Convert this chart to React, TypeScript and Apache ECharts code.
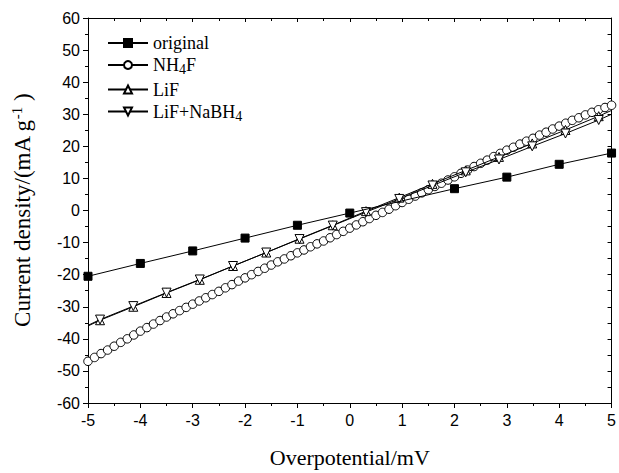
import React, { useEffect, useRef } from "react";
import * as echarts from "echarts";

const xTicks = [-5, -4, -3, -2, -1, 0, 1, 2, 3, 4, 5];

const originalX = [-5, -4, -3, -2, -1, 0, 2, 3, 4, 5];
const originalY = [-20.5, -16.5, -12.6, -8.6, -4.6, -0.8, 6.8, 10.4, 14.4, 17.9];

const nh4fX = [
  -5, -4.875, -4.75, -4.625, -4.5, -4.375, -4.25, -4.125, -4, -3.875, -3.75, -3.625, -3.5, -3.375, -3.25, -3.125,
  -3, -2.875, -2.75, -2.625, -2.5, -2.375, -2.25, -2.125, -2, -1.875, -1.75, -1.625, -1.5, -1.375, -1.25, -1.125,
  -1, -0.875, -0.75, -0.625, -0.5, -0.375, -0.25, -0.125, 0, 0.125, 0.25, 0.375, 0.5, 0.625, 0.75, 0.875,
  1, 1.125, 1.25, 1.375, 1.5, 1.625, 1.75, 1.875, 2, 2.125, 2.25, 2.375, 2.5, 2.625, 2.75, 2.875,
  3, 3.125, 3.25, 3.375, 3.5, 3.625, 3.75, 3.875, 4, 4.125, 4.25, 4.375, 4.5, 4.625, 4.75, 4.875, 5,
];
const nh4fY = [
  -47.0, -45.8, -44.6, -43.5, -42.3, -41.1, -40.0, -38.8, -37.6, -36.5, -35.4, -34.3, -33.2, -32.2, -31.2, -30.2,
  -29.2, -28.2, -27.2, -26.2, -25.2, -24.1, -23.1, -22.0, -21.0, -20.0, -19.0, -18.0, -17.0, -16.0, -15.1, -14.1,
  -13.2, -12.3, -11.3, -10.4, -9.5, -8.5, -7.5, -6.5, -5.5, -4.5, -3.5, -2.5, -1.5, -0.6, 0.4, 1.5,
  2.5, 3.5, 4.5, 5.5, 6.5, 7.5, 8.5, 9.5, 10.5, 11.6, 12.6, 13.7, 14.7, 15.7, 16.8, 17.8,
  18.8, 19.7, 20.7, 21.6, 22.5, 23.5, 24.4, 25.4, 26.3, 27.2, 28.1, 28.9, 29.8, 30.6, 31.4, 32.1, 32.8,
];

// line end points (no marker) + marker points
const lifX = [-5, -4.77, -4.135, -3.5, -2.865, -2.23, -1.595, -0.96, -0.325, 0.31, 0.945, 1.58, 2.215, 2.85, 3.485, 4.12, 4.755, 5];
const lifY = [-36, -34.2, -30, -25.7, -21.6, -17.3, -13.1, -8.8, -4.6, -0.2, 4, 8.3, 12.5, 16.7, 20.9, 25.1, 29.4, 31.2];
const lifNaX = [-5, -4.77, -4.135, -3.5, -2.865, -2.23, -1.595, -0.96, -0.325, 0.31, 0.945, 1.58, 2.215, 2.85, 3.485, 4.12, 4.755, 5];
const lifNaY = [-35.8, -34, -29.8, -25.6, -21.5, -17.3, -13.1, -8.9, -4.7, -0.5, 3.6, 7.8, 11.9, 15.9, 20, 24, 28.2, 30];

const seriesNames = ["original", "NH4F", "LiF", "LiF+NaBH4"];
const legendLabels: Record<string, string> = {
  original: "original",
  NH4F: "NH{sub|4}F",
  LiF: "LiF",
  "LiF+NaBH4": "LiF+NaBH{sub|4}",
};

const serif = "'Liberation Serif', 'Times New Roman', serif";
const sans = "'Liberation Sans', Arial, sans-serif";

function pairs(xs: number[], ys: number[], endsBare = false) {
  return xs.map((x, i) => {
    if (endsBare && (i === 0 || i === xs.length - 1)) {
      return { value: [x, ys[i]], symbol: "none" };
    }
    return { value: [x, ys[i]] };
  });
}

export default function App() {
  const ref = useRef<HTMLDivElement>(null);
  useEffect(() => {
    if (!ref.current) return;
    const chart = echarts.init(ref.current, null, { renderer: "svg" });
    const lineStyle = { color: "#000", width: 1 };
    const itemStyle = { color: "#fff", borderColor: "#000", borderWidth: 1 };
    chart.setOption({
      animation: false,
      backgroundColor: "#fff",
      grid: { left: 88, right: 5, top: 18, bottom: 68, containLabel: false },
      legend: {
        orient: "vertical",
        left: 102,
        top: 29,
        itemWidth: 40,
        itemHeight: 10,
        itemGap: 4,
        data: seriesNames,
        formatter: (n: string) => legendLabels[n] || n,
        textStyle: {
          fontFamily: serif,
          fontSize: 18,
          fontWeight: "normal",
          color: "#000",
          rich: {
            sub: { fontFamily: serif, fontSize: 14, fontWeight: "normal", color: "#000", padding: [9, 0, 0, 0] },
          },
        },
      },
      xAxis: [
        {
          type: "value",
          min: -5,
          max: 5,
          interval: 1,
          name: "Overpotential/mV",
          nameLocation: "middle",
          nameGap: 43,
          nameTextStyle: { fontFamily: serif, fontSize: 22, fontWeight: "normal", color: "#000" },
          axisLine: { onZero: false, lineStyle: { color: "#000", width: 1 } },
          axisTick: { inside: false, length: 5, lineStyle: { color: "#000" } },
          minorTick: { show: true, splitNumber: 2, length: 3, lineStyle: { color: "#000" } },
          splitLine: { show: false },
          axisLabel: {
            fontFamily: sans,
            fontSize: 16,
            color: "#000",
            margin: 9,
            formatter: (v: number) => (xTicks.includes(v) ? String(v) : ""),
          },
        },
        {
          type: "value",
          position: "top",
          min: -5,
          max: 5,
          interval: 1,
          axisLine: { onZero: false, lineStyle: { color: "#000", width: 1 } },
          axisTick: { inside: true, length: 4, lineStyle: { color: "#000" } },
          minorTick: { show: true, splitNumber: 2, length: 3, lineStyle: { color: "#000" } },
          splitLine: { show: false },
          axisLabel: { show: false },
        },
      ],
      yAxis: [
        {
          type: "value",
          min: -60,
          max: 60,
          interval: 10,
          name: "Current density/(mA g{sup|-1} )",
          nameLocation: "middle",
          nameGap: 52,
          nameTextStyle: {
            fontFamily: serif,
            fontSize: 23,
            fontWeight: "normal",
            color: "#000",
            rich: { sup: { fontFamily: serif, fontSize: 15, fontWeight: "normal", color: "#000", padding: [0, 0, 12, 0] } },
          },
          axisLine: { onZero: false, lineStyle: { color: "#000", width: 1 } },
          axisTick: { inside: false, length: 5, lineStyle: { color: "#000" } },
          minorTick: { show: true, splitNumber: 2, length: 3, lineStyle: { color: "#000" } },
          splitLine: { show: false },
          axisLabel: { fontFamily: sans, fontSize: 16, color: "#000", margin: 8 },
        },
        {
          type: "value",
          position: "right",
          min: -60,
          max: 60,
          interval: 10,
          axisLine: { onZero: false, lineStyle: { color: "#000", width: 1 } },
          axisTick: { inside: true, length: 4, lineStyle: { color: "#000" } },
          minorTick: { show: true, splitNumber: 2, length: 4, lineStyle: { color: "#000" } },
          splitLine: { show: false },
          axisLabel: { show: false },
        },
      ],
      series: [
        {
          name: "original",
          type: "line",
          data: pairs(originalX, originalY),
          symbol: "rect",
          symbolSize: 8,
          lineStyle,
          itemStyle: { color: "#000", borderColor: "#000", borderWidth: 1 },
          z: 5,
        },
        {
          name: "NH4F",
          type: "line",
          data: pairs(nh4fX, nh4fY),
          symbol: "circle",
          symbolSize: 8.5,
          showAllSymbol: true,
          lineStyle,
          itemStyle,
          z: 2,
        },
        {
          name: "LiF",
          type: "line",
          data: pairs(lifX, lifY, true),
          symbol: "triangle",
          symbolSize: 9,
          showAllSymbol: true,
          lineStyle,
          itemStyle,
          z: 3,
        },
        {
          name: "LiF+NaBH4",
          type: "line",
          data: pairs(lifNaX, lifNaY, true),
          symbol: "path://M0,0 L10,0 L5,9 Z",
          symbolSize: 9,
          showAllSymbol: true,
          lineStyle,
          itemStyle,
          z: 4,
        },
      ],
    });
    return () => chart.dispose();
  }, []);
  return (
    <div
      ref={ref}
      style={{ position: "fixed", left: 0, top: 0, width: 619, height: 473, background: "#fff" }}
    />
  );
}
